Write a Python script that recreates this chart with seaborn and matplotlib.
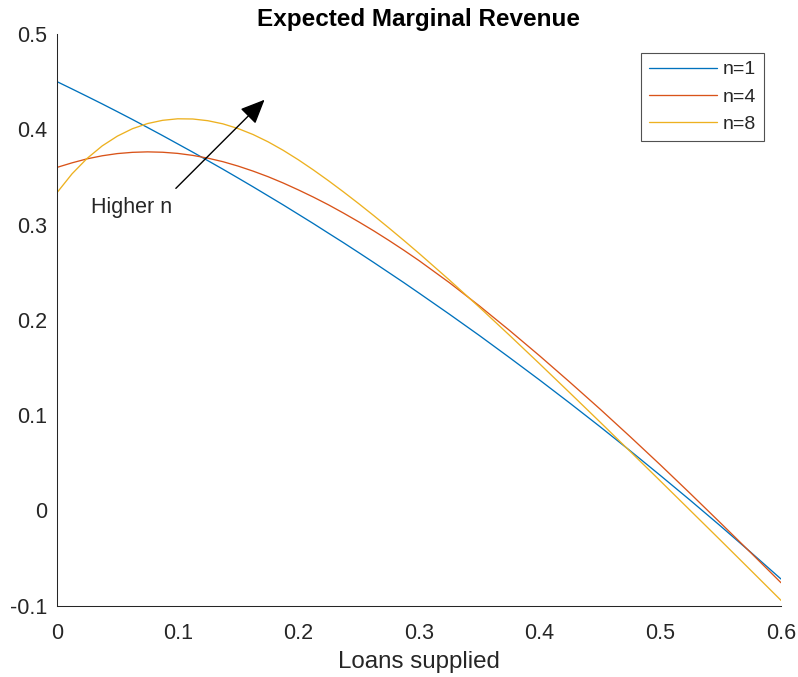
import matplotlib
matplotlib.use("Agg")
import matplotlib.pyplot as plt
import pandas as pd
import seaborn as sns

# Loans supplied (x) and expected marginal revenue for each n
loans = [0.0000, 0.0125, 0.0250, 0.0375, 0.0500, 0.0625, 0.0750, 0.0875,
         0.1000, 0.1125, 0.1250, 0.1375, 0.1500, 0.1625, 0.1750, 0.1875,
         0.2000, 0.2125, 0.2250, 0.2375, 0.2500, 0.2625, 0.2750, 0.2875,
         0.3000, 0.325, 0.350, 0.375, 0.400, 0.425, 0.450, 0.475, 0.500,
         0.525, 0.550, 0.575, 0.600]

mr_n1 = [0.4500, 0.4423, 0.4345, 0.4266, 0.4185, 0.4103, 0.4019, 0.3934,
         0.3847, 0.3760, 0.3671, 0.3581, 0.3489, 0.3396, 0.3301, 0.3206,
         0.3108, 0.3010, 0.2909, 0.2809, 0.2706, 0.2602, 0.2496, 0.2390,
         0.2281, 0.2061, 0.1836, 0.1604, 0.1368, 0.1126, 0.0879, 0.0626,
         0.0367, 0.0104, -0.0165, -0.0440, -0.0720]

mr_n4 = [0.3600, 0.3648, 0.3690, 0.3722, 0.3745, 0.3758, 0.3763, 0.3759,
         0.3747, 0.3726, 0.3697, 0.3660, 0.3614, 0.3561, 0.3502, 0.3436,
         0.3364, 0.3288, 0.3207, 0.3120, 0.3029, 0.2934, 0.2834, 0.2730,
         0.2622, 0.2392, 0.2147, 0.1889, 0.1622, 0.1346, 0.1064, 0.0774,
         0.0478, 0.0175, -0.0133, -0.0444, -0.0759]

mr_n8 = [0.3335, 0.3533, 0.3695, 0.3826, 0.3928, 0.4006, 0.4060, 0.4094,
         0.4110, 0.4108, 0.4090, 0.4057, 0.4008, 0.3945, 0.3868, 0.3779,
         0.3680, 0.3573, 0.3460, 0.3342, 0.3220, 0.3094, 0.2965, 0.2833,
         0.2698, 0.2420, 0.2133, 0.1838, 0.1538, 0.1234, 0.0928, 0.0619,
         0.0309, -0.0003, -0.0315, -0.0629, -0.0944]

series_names = ["n=1", "n=4", "n=8"]
series_colors = ["#0072BD", "#D95319", "#EDB120"]

x_ticks = [0, 0.1, 0.2, 0.3, 0.4, 0.5, 0.6]
x_tick_labels = ["0", "0.1", "0.2", "0.3", "0.4", "0.5", "0.6"]
y_ticks = [-0.1, 0, 0.1, 0.2, 0.3, 0.4, 0.5]
y_tick_labels = ["-0.1", "0", "0.1", "0.2", "0.3", "0.4", "0.5"]

# Arrow annotation endpoints (data coordinates)
arrow_tail = (0.0985, 0.338)
arrow_head = (0.172, 0.431)
note_pos = (0.028, 0.318)

df = pd.DataFrame({
    "loans": loans * 3,
    "mr": mr_n1 + mr_n4 + mr_n8,
    "n": [series_names[0]] * len(loans) + [series_names[1]] * len(loans)
         + [series_names[2]] * len(loans),
})

sns.set_theme(style="white")
plt.rcParams["font.family"] = ["Liberation Sans", "DejaVu Sans"]
axis_color = "#262626"

fig = plt.figure(figsize=(7.98, 6.77), dpi=100)
ax = fig.add_axes([57 / 798, 1 - 605.7 / 677, 724 / 798, 571.7 / 677])

sns.lineplot(data=df, x="loans", y="mr", hue="n", hue_order=series_names,
             palette=series_colors, linewidth=0.95, ax=ax, legend=True)

ax.set_xlim(0, 0.6)
ax.set_ylim(-0.1, 0.5)
ax.set_xticks(x_ticks)
ax.set_xticklabels(x_tick_labels)
ax.set_yticks(y_ticks)
ax.set_yticklabels(y_tick_labels)
ax.tick_params(direction="in", length=4.5, width=0.75, color=axis_color,
               labelcolor=axis_color, labelsize=15.5)
ax.tick_params(axis="x", pad=12.5)
ax.tick_params(axis="y", pad=7)

for side in ("top", "right"):
    ax.spines[side].set_visible(False)
for side in ("left", "bottom"):
    ax.spines[side].set_color(axis_color)
    ax.spines[side].set_linewidth(0.75)

ax.set_xlabel("Loans supplied", fontsize=17.4, color=axis_color, labelpad=5)
ax.set_ylabel("")
ax.set_title("Expected Marginal Revenue", fontsize=17.5, fontweight="bold",
             color="black", pad=6)

leg = ax.legend(loc="upper right", bbox_to_anchor=(0.9765, 0.9668),
                borderaxespad=0, fontsize=14, frameon=True, fancybox=False,
                handlelength=3.5, handletextpad=0.3, labelspacing=0.5,
                borderpad=0.4, edgecolor=axis_color)
leg.get_frame().set_linewidth(0.8)
for txt in leg.get_texts():
    txt.set_color(axis_color)

ax.annotate("", xy=arrow_head, xytext=arrow_tail,
            arrowprops=dict(arrowstyle="-|>,head_length=0.75,head_width=0.33",
                            mutation_scale=20, color="black", lw=1.0,
                            shrinkA=0, shrinkB=0))
ax.text(note_pos[0], note_pos[1], "Higher n", fontsize=15.5, color=axis_color,
        ha="left", va="center")

fig.savefig("out.png", dpi=100)
